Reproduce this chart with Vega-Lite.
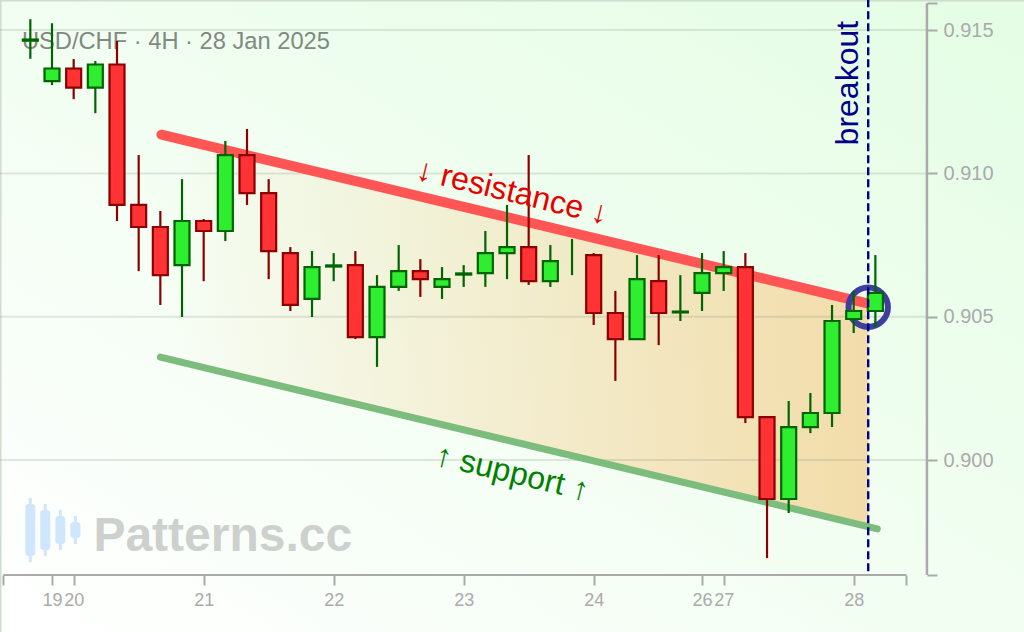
{"$schema":"https://vega.github.io/schema/vega-lite/v6.json","width":1024,"height":632,"padding":0,"autosize":{"type":"none"},"background":"#ffffff","config":{"view":{"stroke":null},"font":"Liberation Sans"},
"datasets":{"candles":[
{"i":0,"dir":"up","open":0.91463,"high":0.91538,"low":0.914,"close":0.91467},
{"i":1,"dir":"up","open":0.91322,"high":0.91524,"low":0.91308,"close":0.91366},
{"i":2,"dir":"down","open":0.91366,"high":0.91399,"low":0.91259,"close":0.91299},
{"i":3,"dir":"up","open":0.91299,"high":0.91392,"low":0.9121,"close":0.9138},
{"i":4,"dir":"down","open":0.9138,"high":0.91462,"low":0.90834,"close":0.9089},
{"i":5,"dir":"down","open":0.9089,"high":0.91064,"low":0.90659,"close":0.90813},
{"i":6,"dir":"down","open":0.90813,"high":0.90869,"low":0.90541,"close":0.90645},
{"i":7,"dir":"up","open":0.9068,"high":0.9098,"low":0.90499,"close":0.90834},
{"i":8,"dir":"down","open":0.90834,"high":0.90841,"low":0.90624,"close":0.90799},
{"i":9,"dir":"up","open":0.90799,"high":0.91113,"low":0.90764,"close":0.91064},
{"i":10,"dir":"down","open":0.91064,"high":0.91155,"low":0.9089,"close":0.90931},
{"i":11,"dir":"down","open":0.90931,"high":0.9098,"low":0.90631,"close":0.90729},
{"i":12,"dir":"down","open":0.90722,"high":0.90743,"low":0.9052,"close":0.90541},
{"i":13,"dir":"up","open":0.90562,"high":0.90729,"low":0.90499,"close":0.90673},
{"i":14,"dir":"up","open":0.90675,"high":0.90722,"low":0.90624,"close":0.90679},
{"i":15,"dir":"down","open":0.9068,"high":0.90729,"low":0.90422,"close":0.90429},
{"i":16,"dir":"up","open":0.90429,"high":0.90645,"low":0.90325,"close":0.90604},
{"i":17,"dir":"up","open":0.90604,"high":0.9075,"low":0.9059,"close":0.90659},
{"i":18,"dir":"down","open":0.90659,"high":0.90701,"low":0.90569,"close":0.90631},
{"i":19,"dir":"up","open":0.90604,"high":0.90673,"low":0.90562,"close":0.90631},
{"i":20,"dir":"up","open":0.90647,"high":0.9068,"low":0.90604,"close":0.90651},
{"i":21,"dir":"up","open":0.90652,"high":0.90799,"low":0.90604,"close":0.90722},
{"i":22,"dir":"up","open":0.90722,"high":0.9089,"low":0.90631,"close":0.90743},
{"i":23,"dir":"down","open":0.90743,"high":0.91064,"low":0.90611,"close":0.90624},
{"i":24,"dir":"up","open":0.90624,"high":0.9075,"low":0.90604,"close":0.90694},
{"i":25,"dir":"up","open":null,"high":0.90771,"low":0.90645,"close":null},
{"i":26,"dir":"down","open":0.90715,"high":0.90722,"low":0.90471,"close":0.90513},
{"i":27,"dir":"down","open":0.90513,"high":0.9059,"low":0.90276,"close":0.90422},
{"i":28,"dir":"up","open":0.90422,"high":0.90715,"low":0.90422,"close":0.90631},
{"i":29,"dir":"down","open":0.90624,"high":0.90715,"low":0.90401,"close":0.90513},
{"i":30,"dir":"up","open":0.90515,"high":0.90645,"low":0.90485,"close":0.90518},
{"i":31,"dir":"up","open":0.90583,"high":0.90722,"low":0.9052,"close":0.90652},
{"i":32,"dir":"up","open":0.90652,"high":0.90729,"low":0.9059,"close":0.90673},
{"i":33,"dir":"down","open":0.90673,"high":0.90722,"low":0.90129,"close":0.9015},
{"i":34,"dir":"down","open":0.9015,"high":0.9015,"low":0.89658,"close":0.89864},
{"i":35,"dir":"up","open":0.89864,"high":0.90206,"low":0.89815,"close":0.90115},
{"i":36,"dir":"up","open":0.90115,"high":0.90234,"low":0.90094,"close":0.90164},
{"i":37,"dir":"up","open":0.90164,"high":0.90541,"low":0.90115,"close":0.90485},
{"i":38,"dir":"up","open":0.90492,"high":0.9059,"low":0.90443,"close":0.9052},
{"i":39,"dir":"up","open":0.9052,"high":0.90715,"low":0.90464,"close":0.90583}
],
"logo":[
{"i":0,"top":0.89847,"bottom":0.89665,"high":0.89868,"low":0.89644},
{"i":0.69,"top":0.89826,"bottom":0.89686,"high":0.89847,"low":0.89665},
{"i":1.385,"top":0.89805,"bottom":0.89707,"high":0.89826,"low":0.89686},
{"i":2.08,"top":0.89784,"bottom":0.89728,"high":0.89805,"low":0.89707}
]},
"layer":[
{"data":{"values":[{"i":-1.4,"i2":45.86,"v":0.894,"v2":0.91605}]},
 "mark":{"type":"rect","fill":{"gradient":"linear","x1":0,"y1":1,"x2":1,"y2":0,"stops":[{"offset":0,"color":"#ffffff"},{"offset":1,"color":"#e4fde4"}]}},
 "encoding":{"x":{"field":"i","type":"quantitative","scale":{"domain":[-1.4,45.86],"nice":false,"zero":false,"padding":0},
   "axis":{"title":null,"orient":"bottom","offset":-57,"zindex":1,"domain":false,"grid":false,"values":[-1.246,1,2,8,14,20,26,31,32,38,40.43],"labelExpr":"({1:'19',2:'20',8:'21',14:'22',20:'23',26:'24',31:'26',32:'27',38:'28'})[datum.value]||''","tickColor":"#aaaaaa","tickWidth":2,"tickSize":10,"labelColor":"#aaaaaa","labelFontSize":18,"labelPadding":6,"labelOverlap":false,"labelBound":false,"labelFlush":false,"labelFont":"Liberation Sans"}},
  "x2":{"field":"i2"},
  "y":{"field":"v","type":"quantitative","scale":{"domain":[0.894,0.91605],"nice":false,"zero":false,"padding":0},
   "axis":{"title":null,"orient":"right","offset":-97,"zindex":1,"domain":false,"grid":false,"values":[0.89599,0.9,0.905,0.91,0.915,0.91594],"labelExpr":"datum.value<0.896||datum.value>0.9155?'':format(datum.value,'.3f')","tickColor":"#aaaaaa","tickWidth":2,"tickSize":10,"labelColor":"#aaaaaa","labelFontSize":20,"labelPadding":6,"labelOverlap":false,"labelBound":false,"labelFlush":false,"labelFont":"Liberation Sans"}},
  "y2":{"field":"v2"}}},
{"data":{"values":[{"i":-1.4,"i2":45.86,"v":0.91605}]},
 "mark":{"type":"rule","stroke":"#d0dcd0","strokeWidth":3},
 "encoding":{"x":{"field":"i","type":"quantitative"},"x2":{"field":"i2"},"y":{"field":"v","type":"quantitative"}}},
{"data":{"values":[{"i":-1.4,"v":0.894,"v2":0.91605}]},
 "mark":{"type":"rule","stroke":"#d0dcd0","strokeWidth":3},
 "encoding":{"x":{"field":"i","type":"quantitative"},"y":{"field":"v","type":"quantitative"},"y2":{"field":"v2"}}},
{"data":{"values":[{"i":6.05,"top":0.91135,"bottom":0.90359},{"i":38.68,"top":0.90546,"bottom":0.89767}]},
 "mark":{"type":"area","fill":{"gradient":"linear","x1":0,"y1":0,"x2":1,"y2":0,"stops":[{"offset":0,"color":"rgba(243,220,170,0)"},{"offset":1,"color":"rgba(243,220,170,1)"}]}},
 "encoding":{"x":{"field":"i","type":"quantitative"},"y":{"field":"top","type":"quantitative"},"y2":{"field":"bottom"}}},
{"data":{"values":[{"v":0.9,"i":-1.4,"i2":41.38},{"v":0.905,"i":-1.4,"i2":41.38},{"v":0.91,"i":-1.4,"i2":41.38},{"v":0.915,"i":-1.4,"i2":41.38}]},
 "mark":{"type":"rule","stroke":"#788878","strokeOpacity":0.2,"strokeWidth":2},
 "encoding":{"x":{"field":"i","type":"quantitative"},"x2":{"field":"i2"},"y":{"field":"v","type":"quantitative"}}},
{"data":{"values":[{"i":-1.246,"i2":40.43,"v":0.89599}]},
 "mark":{"type":"rule","stroke":"#aaaaaa","strokeWidth":2},
 "encoding":{"x":{"field":"i","type":"quantitative"},"x2":{"field":"i2"},"y":{"field":"v","type":"quantitative"}}},
{"data":{"values":[{"i":41.38,"v":0.89599,"v2":0.91594}]},
 "mark":{"type":"rule","stroke":"#aaaaaa","strokeWidth":2.5},
 "encoding":{"x":{"field":"i","type":"quantitative"},"y":{"field":"v","type":"quantitative"},"y2":{"field":"v2"}}},
{"data":{"name":"logo"},"mark":{"type":"rule","stroke":"#cfe6fc","strokeWidth":3},
 "encoding":{"x":{"field":"i","type":"quantitative"},"y":{"field":"high","type":"quantitative"},"y2":{"field":"low"}}},
{"data":{"name":"logo"},"mark":{"type":"bar","size":10,"fill":"#cfe6fc","cornerRadius":3},
 "encoding":{"x":{"field":"i","type":"quantitative"},"y":{"field":"top","type":"quantitative"},"y2":{"field":"bottom"}}},
{"data":{"values":[{"i":2.91,"v":0.89683,"label":"Patterns.cc"}]},
 "mark":{"type":"text","align":"left","baseline":"alphabetic","font":"Liberation Sans","fontWeight":"bold","fontSize":48,"fill":"#cdd1cd"},
 "encoding":{"x":{"field":"i","type":"quantitative"},"y":{"field":"v","type":"quantitative"},"text":{"field":"label"}}},
{"data":{"values":[{"i":6.0,"v":0.90359},{"i":39.09,"v":0.8976}]},
 "mark":{"type":"line","stroke":"#7cbc7c","strokeWidth":7,"strokeCap":"round"},
 "encoding":{"x":{"field":"i","type":"quantitative"},"y":{"field":"v","type":"quantitative"}}},
{"data":{"values":[{"i":6.05,"v":0.91135},{"i":38.68,"v":0.90546}]},
 "mark":{"type":"line","stroke":"#ff5555","strokeWidth":10,"strokeCap":"round"},
 "encoding":{"x":{"field":"i","type":"quantitative"},"y":{"field":"v","type":"quantitative"}}},
{"data":{"values":[{"i":-0.39,"v":0.91434,"label":"USD/CHF · 4H · 28 Jan 2025"}]},
 "mark":{"type":"text","align":"left","baseline":"alphabetic","font":"Liberation Sans","fontSize":23.7,"fill":"#808a80"},
 "encoding":{"x":{"field":"i","type":"quantitative"},"y":{"field":"v","type":"quantitative"},"text":{"field":"label"}}},
{"data":{"values":[{"i":38.67,"v":0.90533}]},
 "mark":{"type":"point","shape":"circle","filled":false,"size":1552,"stroke":"#3e3e9e","strokeWidth":6,"opacity":1},
 "encoding":{"x":{"field":"i","type":"quantitative"},"y":{"field":"v","type":"quantitative"}}},
{"data":{"name":"candles"},"mark":{"type":"rule","strokeWidth":2.2},
 "encoding":{"x":{"field":"i","type":"quantitative"},"y":{"field":"high","type":"quantitative"},"y2":{"field":"low"},
  "stroke":{"field":"dir","type":"nominal","scale":{"domain":["up","down"],"range":["#006400","#8b0000"]},"legend":null}}},
{"data":{"name":"candles"},"mark":{"type":"bar","size":15,"strokeWidth":2.2},
 "encoding":{"x":{"field":"i","type":"quantitative"},"y":{"field":"open","type":"quantitative"},"y2":{"field":"close"},
  "fill":{"field":"dir","type":"nominal","scale":{"domain":["up","down"],"range":["#2fee2f","#ff3333"]},"legend":null},
  "stroke":{"field":"dir","type":"nominal","legend":null}}},
{"data":{"values":[{"i":22.24,"v":0.90935,"label":"↓ resistance ↓"}]},
 "mark":{"type":"text","align":"center","baseline":"middle","font":"Liberation Sans","fontSize":32,"angle":13.5,"fill":"#e60000"},
 "encoding":{"x":{"field":"i","type":"quantitative"},"y":{"field":"v","type":"quantitative"},"text":{"field":"label"}}},
{"data":{"values":[{"i":22.24,"v":0.89955,"label":"↑ support ↑"}]},
 "mark":{"type":"text","align":"center","baseline":"middle","font":"Liberation Sans","fontSize":32,"angle":13.5,"fill":"#008000"},
 "encoding":{"x":{"field":"i","type":"quantitative"},"y":{"field":"v","type":"quantitative"},"text":{"field":"label"}}},
{"data":{"values":[{"i":37.74,"v":0.91315,"label":"breakout"}]},
 "mark":{"type":"text","align":"center","baseline":"middle","font":"Liberation Sans","fontSize":32,"angle":-90,"fill":"#00008b"},
 "encoding":{"x":{"field":"i","type":"quantitative"},"y":{"field":"v","type":"quantitative"},"text":{"field":"label"}}},
{"data":{"values":[{"i":38.67,"v":0.89612,"v2":0.91605}]},
 "mark":{"type":"rule","stroke":"#00008b","strokeWidth":2.4,"strokeDash":[8,4]},
 "encoding":{"x":{"field":"i","type":"quantitative"},"y":{"field":"v","type":"quantitative"},"y2":{"field":"v2"}}}
]}
